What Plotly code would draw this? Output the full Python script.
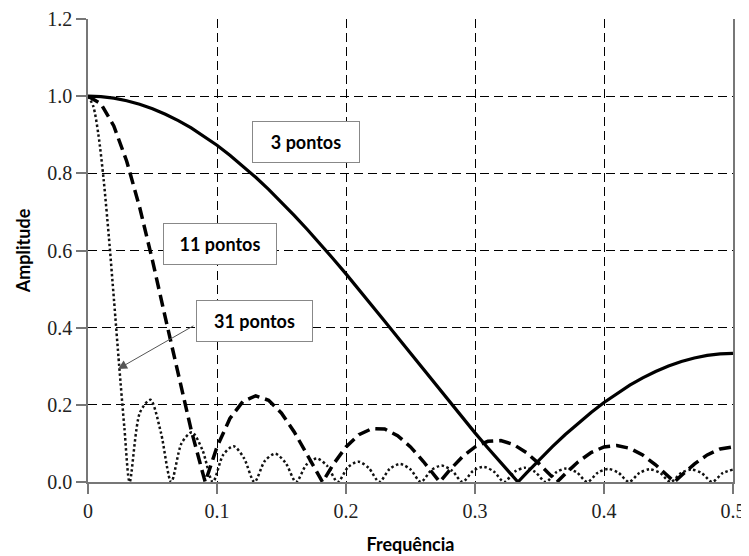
import plotly.graph_objects as go

# ---- data ----
f3 = [0.00, 0.01, 0.02, 0.03, 0.04, 0.05, 0.06, 0.07, 0.08, 0.09, 0.10, 0.11, 0.12, 0.13, 0.14,
      0.15, 0.16, 0.17, 0.18, 0.19, 0.20, 0.21, 0.22, 0.23, 0.24, 0.25, 0.26, 0.27, 0.28, 0.29,
      0.30, 0.31, 0.32, 0.33, 0.3333, 0.34, 0.35, 0.36, 0.37, 0.38, 0.39, 0.40, 0.41, 0.42, 0.43,
      0.44, 0.45, 0.46, 0.47, 0.48, 0.49, 0.50]
a3 = [1.0, 0.99868, 0.99474, 0.98819, 0.97906, 0.96737, 0.95319, 0.93655, 0.91754, 0.89622,
      0.87268, 0.84701, 0.81931, 0.78970, 0.75828, 0.72519, 0.69055, 0.65450, 0.61719, 0.57875,
      0.53934, 0.49913, 0.45825, 0.41689, 0.37519, 0.33333, 0.29147, 0.24978, 0.20841, 0.16754,
      0.12732, 0.08792, 0.04948, 0.01216, 0.0, 0.02388, 0.05852, 0.09162, 0.12303, 0.15265,
      0.18034, 0.20601, 0.22955, 0.25087, 0.26988, 0.28652, 0.30070, 0.31239, 0.32153, 0.32808,
      0.33202, 0.33333]

f11 = [0.00, 0.01, 0.02, 0.03, 0.04, 0.05, 0.06, 0.07, 0.08, 0.09, 0.0909, 0.10, 0.11, 0.12,
       0.13, 0.14, 0.15, 0.16, 0.17, 0.18, 0.1818, 0.19, 0.20, 0.21, 0.22, 0.23, 0.24, 0.25,
       0.26, 0.27, 0.2727, 0.28, 0.29, 0.30, 0.31, 0.32, 0.33, 0.34, 0.35, 0.36, 0.3636, 0.37,
       0.38, 0.39, 0.40, 0.41, 0.42, 0.43, 0.44, 0.45, 0.4545, 0.46, 0.47, 0.48, 0.49, 0.50]
a11 = [1.0, 0.9804, 0.92286, 0.83148, 0.71249, 0.57398, 0.42515, 0.27560, 0.13457, 0.01023, 0.0,
       0.09091, 0.16455, 0.20851, 0.22339, 0.21183, 0.17842, 0.12918, 0.07093, 0.01065, 0.0,
       0.04512, 0.09091, 0.12267, 0.13814, 0.13720, 0.12016, 0.09091, 0.05310, 0.01141, 0.0,
       0.02934, 0.06467, 0.09091, 0.10555, 0.10746, 0.09693, 0.07562, 0.04632, 0.01259, 0.0,
       0.02161, 0.05239, 0.07635, 0.09091, 0.09462, 0.08727, 0.06987, 0.04458, 0.01440, 0.0,
       0.01717, 0.04648, 0.07019, 0.08558, 0.09091]

f31 = [0.0, 0.00403, 0.00806, 0.01210, 0.01613, 0.02016, 0.02419, 0.02823, 0.03226,
       0.04032, 0.04839, 0.05645, 0.06452, 0.07258, 0.08065, 0.08871, 0.09677,
       0.10484, 0.11290, 0.12097, 0.12903, 0.13710, 0.14516, 0.15323, 0.16129,
       0.16935, 0.17742, 0.18548, 0.19355, 0.20161, 0.20968, 0.21774, 0.22581,
       0.23387, 0.24194, 0.25000, 0.25806, 0.26613, 0.27419, 0.28226, 0.29032,
       0.29839, 0.30645, 0.31452, 0.32258, 0.33065, 0.33871, 0.34677, 0.35484,
       0.36290, 0.37097, 0.37903, 0.38710, 0.39516, 0.40323, 0.41129, 0.41935,
       0.42742, 0.43548, 0.44355, 0.45161, 0.45968, 0.46774, 0.47581, 0.48387,
       0.49194, 0.50000]
a31 = [1.0, 0.97448, 0.90045, 0.78440, 0.63689, 0.47085, 0.30040, 0.13940, 0.0,
       0.18054, 0.21303, 0.12929, 0.0, 0.10091, 0.12870, 0.08292, 0.0,
       0.07052, 0.09288, 0.06149, 0.0, 0.05463, 0.07325, 0.04926, 0.0,
       0.04496, 0.06098, 0.04145, 0.0, 0.03855, 0.05272, 0.03611, 0.0,
       0.03401, 0.04682, 0.03226, 0.0, 0.03074, 0.04251, 0.02943, 0.0,
       0.02830, 0.03930, 0.02732, 0.0, 0.02647, 0.03689, 0.02573, 0.0,
       0.02510, 0.03510, 0.02456, 0.0, 0.02410, 0.03380, 0.02372, 0.0,
       0.02342, 0.03293, 0.02317, 0.0, 0.02299, 0.03242, 0.02288, 0.0,
       0.02282, 0.03226]

x_ticks = [0, 0.1, 0.2, 0.3, 0.4, 0.5]
x_ticklabels = ["0", "0.1", "0.2", "0.3", "0.4", "0.5"]
y_ticks = [0.0, 0.2, 0.4, 0.6, 0.8, 1.0, 1.2]
y_ticklabels = ["0.0", "0.2", "0.4", "0.6", "0.8", "1.0", "1.2"]

labels = ["3 pontos", "11 pontos", "31 pontos"]
label_x = [0.169, 0.1023, 0.129]
label_y = [0.881, 0.617, 0.417]
label_w = [104, 110, 113]
arrow_tip = (0.0233, 0.293)
arrow_tail = (0.0829, 0.407)

# ---- figure ----
fig = go.Figure()
fig.add_trace(go.Scatter(x=f31, y=a31, mode="lines", line=dict(color="#111", width=2.5, dash="2.5px,2.5px", shape="spline", smoothing=0.8), showlegend=False))
fig.add_trace(go.Scatter(x=f11, y=a11, mode="lines", line=dict(color="black", width=3.5, dash="12px,6px"), showlegend=False))
fig.add_trace(go.Scatter(x=f3, y=a3, mode="lines", line=dict(color="black", width=3.2), showlegend=False))

sans = "Lato, 'Noto Sans', sans-serif"
box_font = dict(family=sans, size=18, color="black")
for t, x, y, w in zip(labels, label_x, label_y, label_w):
    fig.add_annotation(x=x, y=y, xref="x", yref="y", text="<b>%s</b>" % t, showarrow=False,
                       font=box_font, bgcolor="white", bordercolor="#888", borderwidth=1,
                       borderpad=1, width=w, height=38)
fig.add_annotation(x=arrow_tip[0], y=arrow_tip[1], ax=arrow_tail[0], ay=arrow_tail[1],
                   xref="x", yref="y", axref="x", ayref="y", text="", showarrow=True,
                   arrowhead=2, arrowsize=1.8, arrowwidth=1, arrowcolor="#555")

axis_font = dict(family="'Liberation Serif', 'DejaVu Serif', 'Times New Roman', serif", size=20, color="#222")
fig.update_xaxes(range=[0, 0.5], tickvals=x_ticks, ticktext=x_ticklabels, tickfont=axis_font,
                 showgrid=True, gridcolor="black", gridwidth=1, griddash="9px,5px",
                 showline=True, linecolor="#777", linewidth=1.5, ticks="outside", ticklen=10,
                 tickcolor="#777", tickwidth=1.5, zeroline=False, mirror=False, automargin=False,
                 title=dict(text="<b>Frequência</b>", font=dict(family=sans, size=18, color="black"), standoff=18))
fig.update_yaxes(range=[0, 1.2], tickvals=y_ticks, ticktext=y_ticklabels, tickfont=axis_font,
                 showgrid=True, gridcolor="black", gridwidth=1, griddash="9px,5px",
                 showline=True, linecolor="#777", linewidth=1.5, ticks="outside", ticklen=10,
                 tickcolor="#777", tickwidth=1.5, zeroline=False, mirror=True, automargin=False,
                 title=dict(text="<b>Amplitude</b>", font=dict(family=sans, size=18, color="black"), standoff=12))

fig.update_layout(width=741, height=548, margin=dict(l=80, r=16, t=11, b=74),
                  plot_bgcolor="white", paper_bgcolor="white")
fig.write_html("out.html")
